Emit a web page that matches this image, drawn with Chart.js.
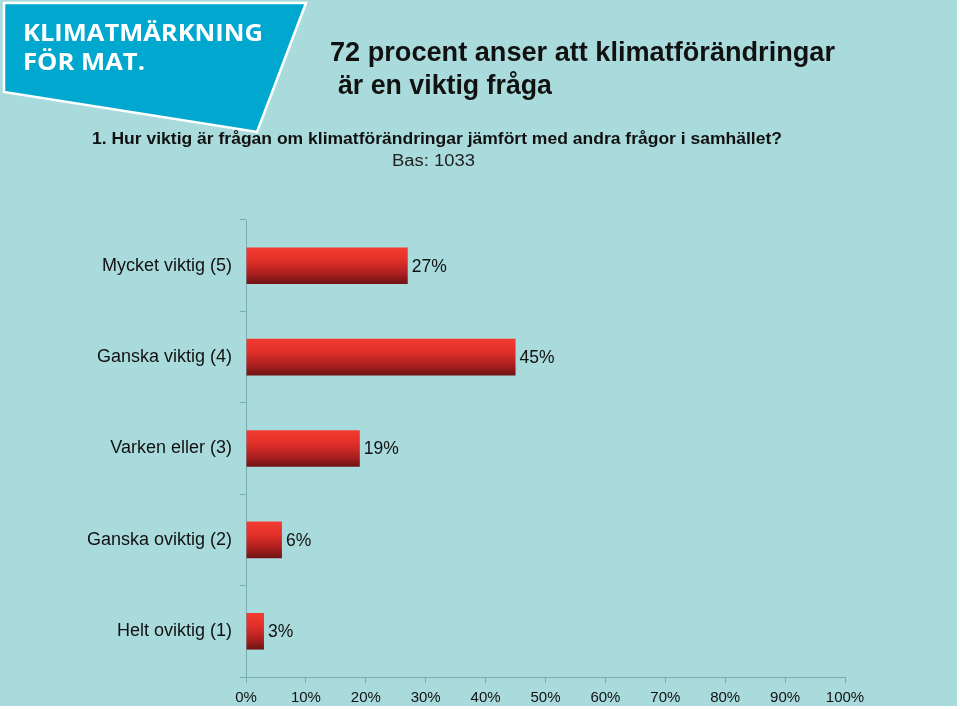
<!DOCTYPE html>
<html><head><meta charset="utf-8">
<script src="https://cdn.jsdelivr.net/npm/chart.js@4"></script>
<style>
html,body{margin:0;padding:0;background:#fff;}
#wrap{position:relative;width:960px;height:709px;overflow:hidden;background:#fff;}
#bg{position:absolute;left:0;top:0;width:957px;height:706px;background:#aadbdc;}
#logo{position:absolute;left:0;top:0;}
canvas{position:absolute;left:0;top:0;}
.t{position:absolute;white-space:nowrap;line-height:1;transform-origin:0 0;font-family:"Liberation Sans",Arial,sans-serif;color:#111;}
</style></head>
<body><div id="wrap"><div id="bg"></div>
<svg id="logo" width="320" height="150"><polygon points="4,3 306,3 257,132 4,92" fill="#00a8cf" stroke="#ffffff" stroke-width="2.5"/></svg>
<canvas id="c" width="960" height="709"></canvas>
<div class="t" data-w="240" data-b="41" style="left:23px;font-family:'Open Sans',sans-serif;font-weight:700;font-size:24px;color:#fff">KLIMATMÄRKNING</div>
<div class="t" data-w="122" data-b="70" style="left:23px;font-family:'Open Sans',sans-serif;font-weight:700;font-size:24px;color:#fff">FÖR MAT.</div>
<div class="t" data-w="505" data-b="61" style="left:330px;font-weight:700;font-size:27px;">72 procent anser att klimatförändringar</div>
<div class="t" data-w="214" data-b="94" style="left:338px;font-weight:700;font-size:27px;">är en viktig fråga</div>
<div class="t" data-w="690" data-b="144" style="left:92px;font-weight:700;font-size:16.5px;">1. Hur viktig är frågan om klimatförändringar jämfört med andra frågor i samhället?</div>
<div class="t" data-w="83" data-b="166" style="left:392px;font-weight:400;font-size:16px;color:#222">Bas: 1033</div>
</div>
<script>
const categories = ['Mycket viktig (5)', 'Ganska viktig (4)', 'Varken eller (3)', 'Ganska oviktig (2)', 'Helt oviktig (1)'];
const values = [27, 45, 19, 6, 3];
const xTickValues = [0, 10, 20, 30, 40, 50, 60, 70, 80, 90, 100];
const axisColor = '#78aeb0';

// position overlay texts by baseline and fit to measured widths
document.querySelectorAll('.t').forEach(el => {
  const m = document.createElement('span');
  m.style.cssText = 'display:inline-block;width:0;height:0;vertical-align:baseline';
  el.appendChild(m);
  el.style.top = '0px';
  const base = m.getBoundingClientRect().top - el.getBoundingClientRect().top;
  el.removeChild(m);
  el.style.top = (parseFloat(el.dataset.b) - base) + 'px';
  const w = el.getBoundingClientRect().width;
  el.style.transform = 'scaleX(' + (parseFloat(el.dataset.w) / w) + ')';
});

Chart.defaults.font.family = "'Liberation Sans', Arial, sans-serif";
Chart.defaults.color = '#111';

function barGradient(ctx) {
  const chart = ctx.chart;
  const area = chart.chartArea;
  const ys = chart.scales && chart.scales.y;
  if (!area || !ys || ctx.dataIndex === undefined) return '#d22';
  const c = ys.getPixelForValue(ctx.dataIndex);
  const band = (area.bottom - area.top) / categories.length;
  const h = band * 0.4;
  const g = chart.ctx.createLinearGradient(0, c - h / 2, 0, c + h / 2);
  g.addColorStop(0, '#f23b30');
  g.addColorStop(0.35, '#e2302a');
  g.addColorStop(0.7, '#b02020');
  g.addColorStop(1, '#6e1414');
  return g;
}

const valueLabels = {
  id: 'valueLabels',
  afterDatasetsDraw(chart) {
    const ctx = chart.ctx;
    const meta = chart.getDatasetMeta(0);
    ctx.save();
    ctx.font = "17.5px 'Liberation Sans', Arial, sans-serif";
    ctx.fillStyle = '#111';
    ctx.textBaseline = 'middle';
    ctx.textAlign = 'left';
    meta.data.forEach((bar, i) => {
      ctx.fillText(values[i] + '%', bar.x + 4, bar.y + 1);
    });
    ctx.restore();
  }
};

new Chart(document.getElementById('c'), {
  type: 'bar',
  data: {
    labels: categories,
    datasets: [{
      data: values,
      backgroundColor: barGradient,
      borderWidth: 0,
      barPercentage: 0.4,
      categoryPercentage: 1
    }]
  },
  options: {
    indexAxis: 'y',
    responsive: false,
    animation: false,
    devicePixelRatio: 1,
    layout: { padding: { left: 0, top: 220, right: 115, bottom: 0 } },
    plugins: { legend: { display: false }, tooltip: { enabled: false }, title: { display: false } },
    scales: {
      x: {
        min: 0, max: 100,
        afterBuildTicks(s) { s.ticks = xTickValues.map(v => ({ value: v })); },
        ticks: { callback: v => v + '%', font: { size: 15 }, padding: 6, color: '#111', maxRotation: 0, autoSkip: false },
        grid: { drawOnChartArea: false, drawTicks: true, tickLength: 6, color: axisColor, lineWidth: 1 },
        border: { display: true, color: axisColor, width: 1 },
        afterFit(s) { s.height = 32; }
      },
      y: {
        ticks: { font: { size: 18 }, padding: 8, color: '#111' },
        grid: { drawOnChartArea: false, tickLength: 6, color: axisColor, offset: true },
        border: { display: true, color: axisColor, width: 1 },
        afterFit(s) { s.width = 246; }
      }
    }
  },
  plugins: [valueLabels]
});
</script>
</body></html>
